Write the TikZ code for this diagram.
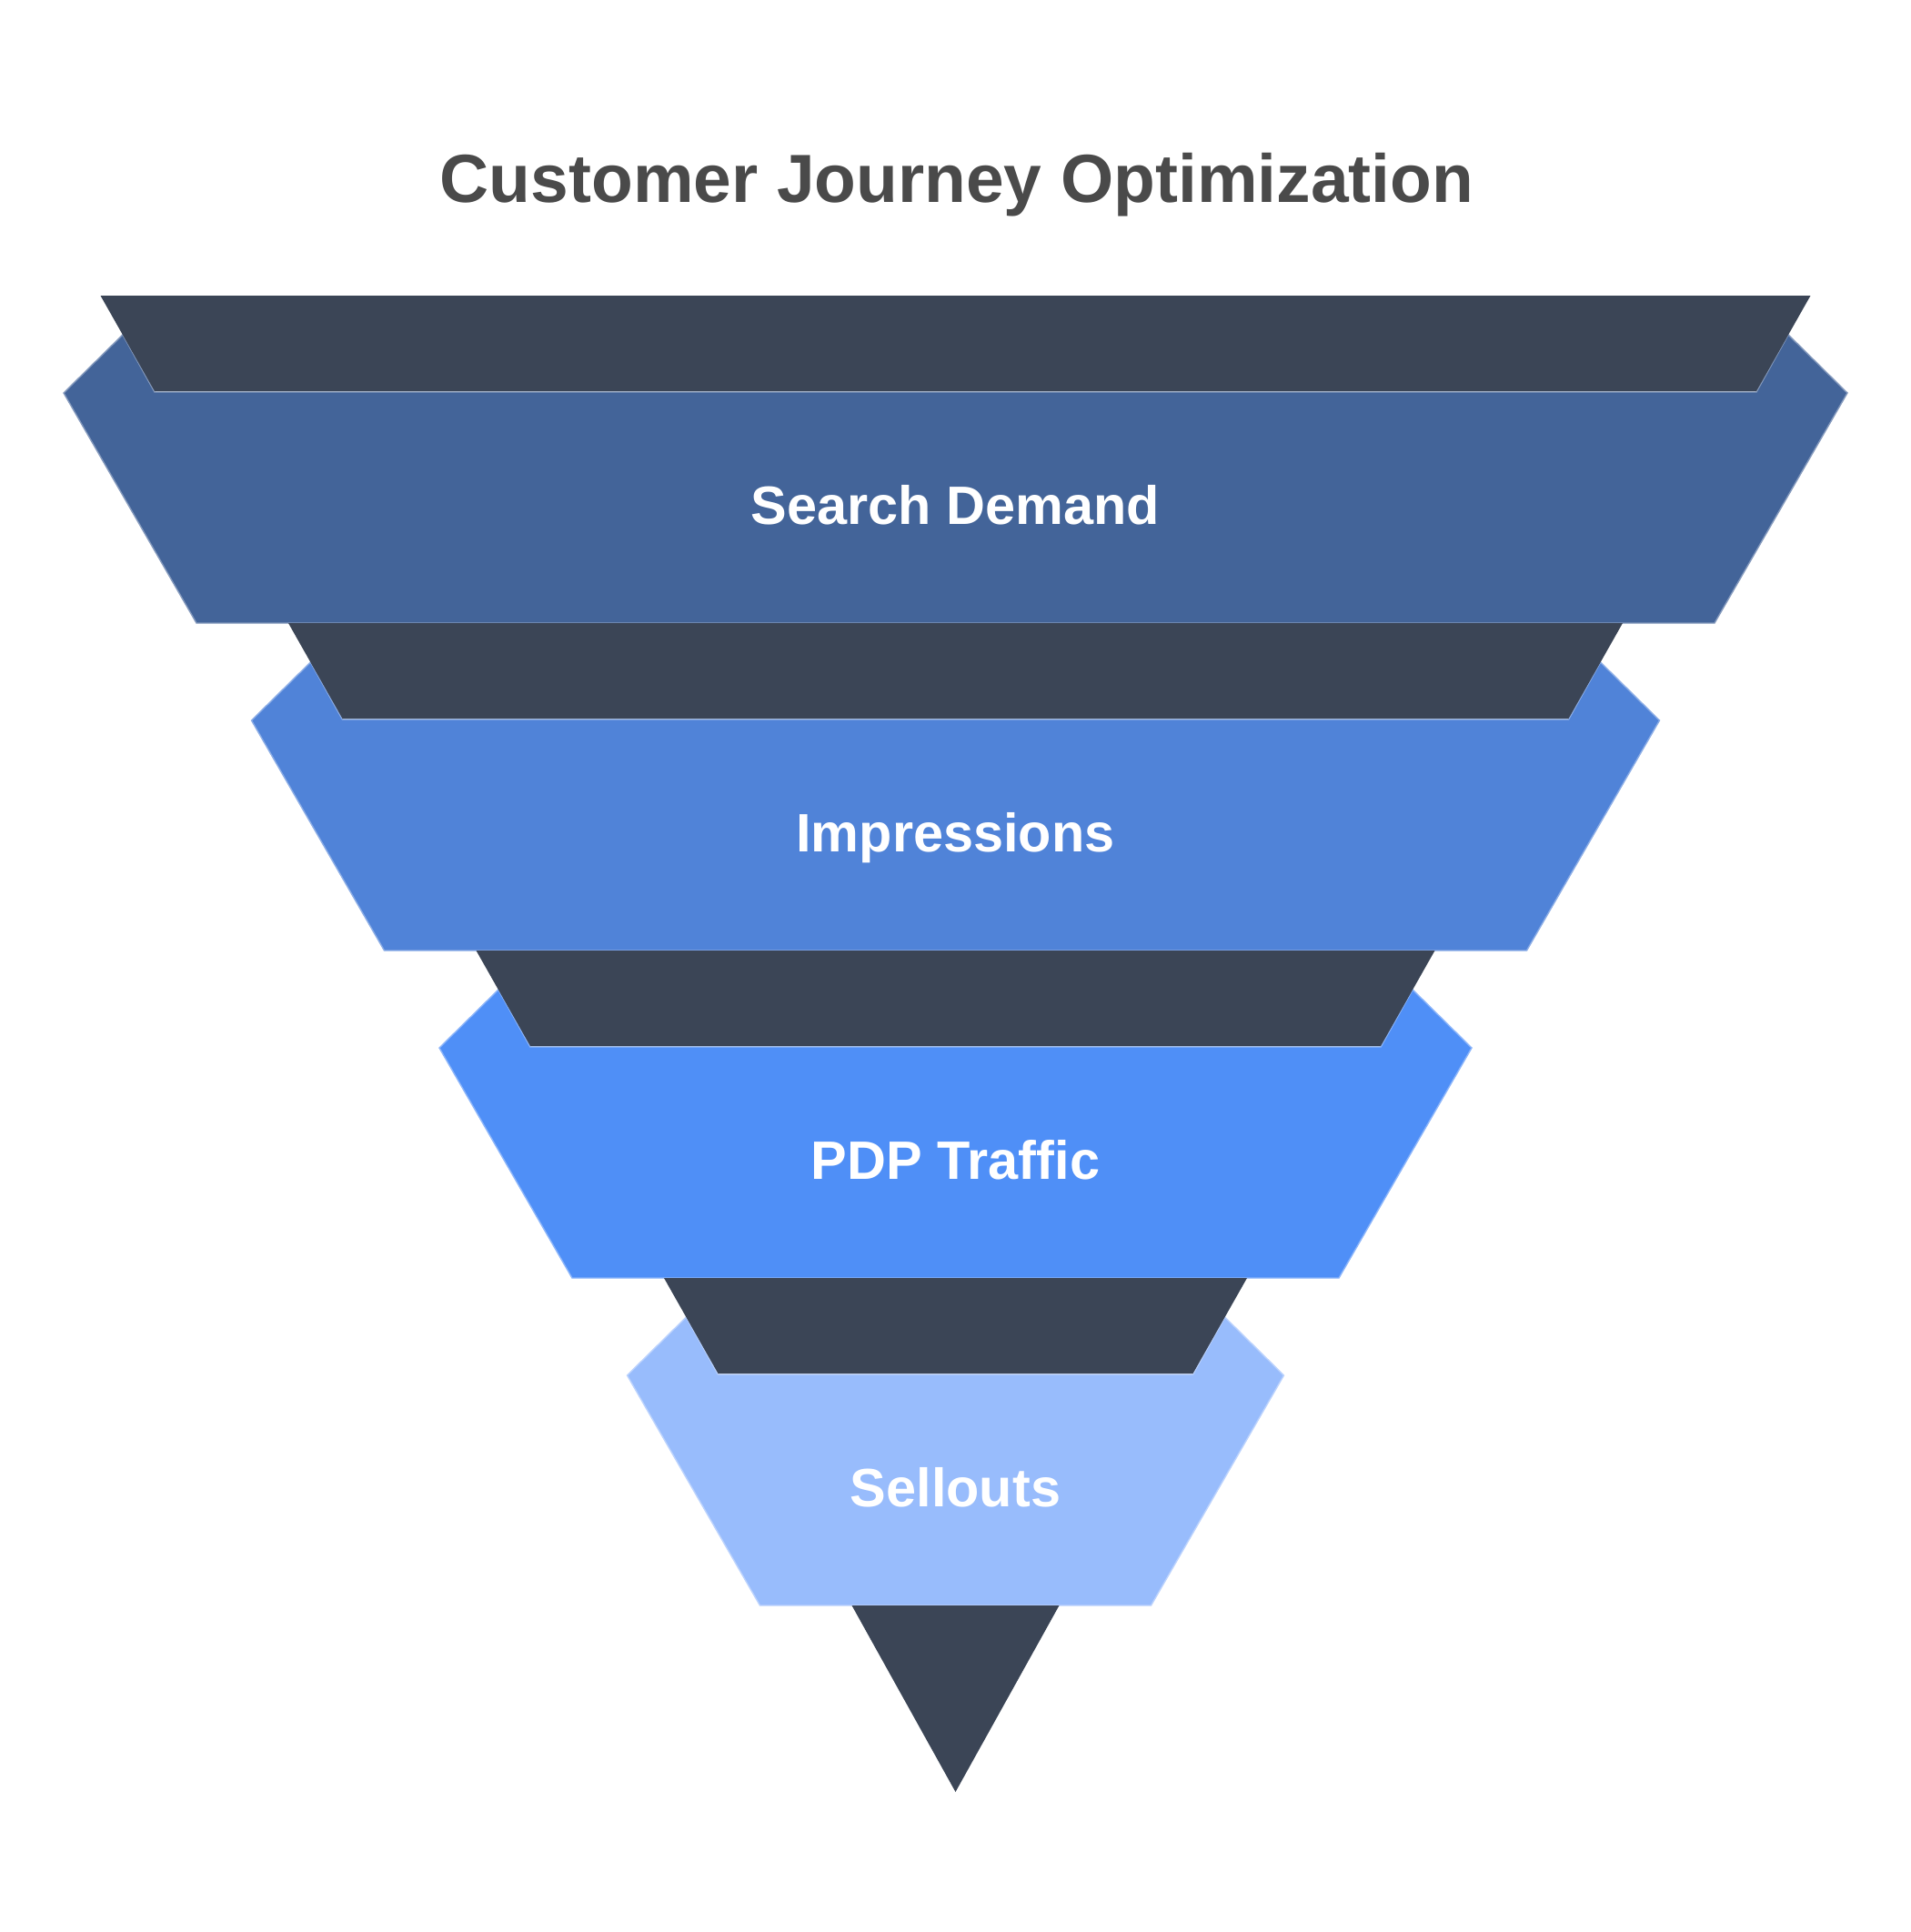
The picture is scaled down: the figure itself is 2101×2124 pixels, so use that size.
\documentclass[tikz,border=0pt]{standalone}
\usepackage{tikz}
\usepackage{xcolor}
\usepackage{fontspec}
\setmainfont{Liberation Sans}
\definecolor{rimgray}{HTML}{3B4556}
\definecolor{titlegray}{HTML}{4A4A4A}
\definecolor{demandblue}{HTML}{436499}
\definecolor{impressblue}{HTML}{5083D8}
\definecolor{trafficblue}{HTML}{4F8FF7}
\definecolor{selloutblue}{HTML}{98BCFC}

\begin{document}
\begin{tikzpicture}[x=0.01cm, y=-0.01cm,
  rim/.style={fill=rimgray},
  band/.style={line width=0.4pt, line join=miter},
  stagelabel/.style={anchor=base, text=white, font=\bfseries\fontsize{16.9}{20}\selectfont}]
\useasboundingbox (0,0) rectangle (2101,2124);

\node [anchor=base, text=titlegray, font=\bfseries\fontsize{21.3}{26}\selectfont] (title) at (1052,222.7) {Customer Journey Optimization};

% Search Demand
\draw [band, fill=demandblue, draw=demandblue!65!white] (70,432) -- (134.9,368) -- (170,431) -- (1931,431) -- (1966.1,368) -- (2031,432) -- (1885,685) -- (216,685) -- cycle;
\fill [rim] (110.5,325) -- (1990.5,325) -- (1931,430) -- (170,430) -- cycle;
\node [stagelabel] (demand) at (1050.5,576) {Search Demand};

% Impressions
\draw [band, fill=impressblue, draw=impressblue!65!white] (276.5,792) -- (341.4,728) -- (376.5,791) -- (1724.5,791) -- (1759.6,728) -- (1824.5,792) -- (1678.5,1045) -- (422.5,1045) -- cycle;
\fill [rim] (317,685) -- (1784,685) -- (1724.5,790) -- (376.5,790) -- cycle;
\node [stagelabel] (impress) at (1050.5,936) {Impressions};

% PDP Traffic
\draw [band, fill=trafficblue, draw=trafficblue!65!white] (483,1152) -- (547.9,1088) -- (583,1151) -- (1518,1151) -- (1553.1,1088) -- (1618,1152) -- (1472,1405) -- (629,1405) -- cycle;
\fill [rim] (523.5,1045) -- (1577.5,1045) -- (1518,1150) -- (583,1150) -- cycle;
\node [stagelabel] (traffic) at (1050.5,1296) {PDP Traffic};

% Sellouts
\draw [band, fill=selloutblue, draw=selloutblue!65!white] (689.5,1512) -- (754.4,1448) -- (789.5,1511) -- (1311.5,1511) -- (1346.6,1448) -- (1411.5,1512) -- (1265.5,1765) -- (835.5,1765) -- cycle;
\fill [rim] (730,1405) -- (1371,1405) -- (1311.5,1510) -- (789.5,1510) -- cycle;
\node [stagelabel] (sellout) at (1050.5,1656) {Sellouts};

% bottom tip
\fill [rim] (936.5,1765) -- (1164.5,1765) -- (1050.5,1970) -- cycle;

\end{tikzpicture}
\end{document}
